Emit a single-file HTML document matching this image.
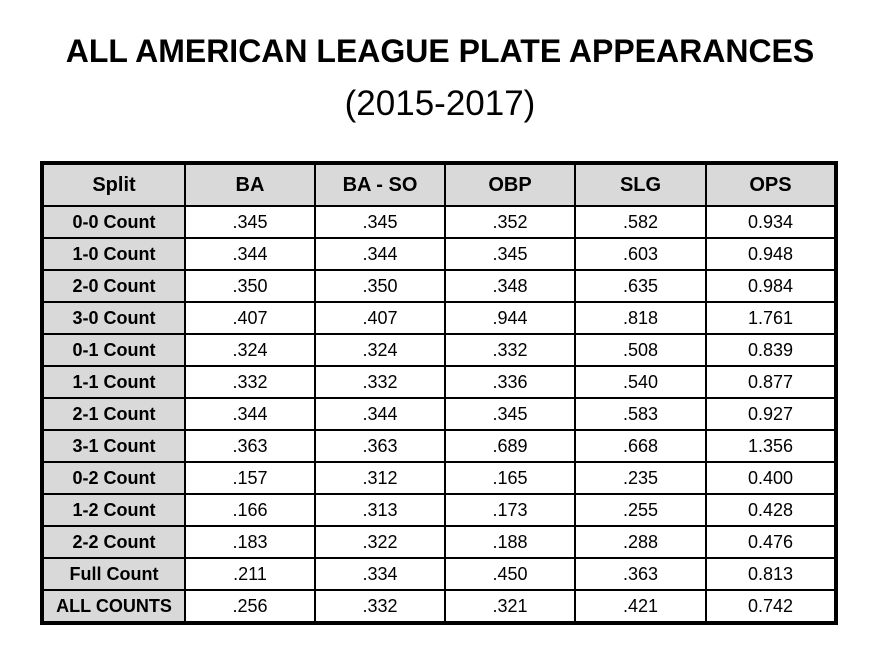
<!DOCTYPE html>
<html><head><style>
body{margin:0;width:880px;height:660px;background:#fff;font-family:"Liberation Sans",sans-serif;position:relative;overflow:hidden}
.t{position:absolute;left:0;width:880px;text-align:center;color:#000}
table{position:absolute;left:40px;top:161px;border-collapse:collapse;border:4px solid #000}
td{border:2px solid #000;text-align:center;font-size:18px;height:30px;padding:0;color:#000}
tr.h td{background:#d9d9d9;font-weight:bold;font-size:20px;height:40px}
td.s{background:#d9d9d9;font-weight:bold;width:140px}
</style></head><body>
<div class="t" style="top:33px;font-size:32px;font-weight:bold;">ALL AMERICAN LEAGUE PLATE APPEARANCES</div>
<div class="t" style="top:84px;font-size:35px;">(2015-2017)</div>
<table>
<tr class="h"><td style="width:140px">Split</td><td style="width:128px">BA</td><td style="width:128px">BA - SO</td><td style="width:128px">OBP</td><td style="width:129px">SLG</td><td style="width:127px">OPS</td></tr>
<tr><td class="s">0-0 Count</td><td>.345</td><td>.345</td><td>.352</td><td>.582</td><td>0.934</td></tr>
<tr><td class="s">1-0 Count</td><td>.344</td><td>.344</td><td>.345</td><td>.603</td><td>0.948</td></tr>
<tr><td class="s">2-0 Count</td><td>.350</td><td>.350</td><td>.348</td><td>.635</td><td>0.984</td></tr>
<tr><td class="s">3-0 Count</td><td>.407</td><td>.407</td><td>.944</td><td>.818</td><td>1.761</td></tr>
<tr><td class="s">0-1 Count</td><td>.324</td><td>.324</td><td>.332</td><td>.508</td><td>0.839</td></tr>
<tr><td class="s">1-1 Count</td><td>.332</td><td>.332</td><td>.336</td><td>.540</td><td>0.877</td></tr>
<tr><td class="s">2-1 Count</td><td>.344</td><td>.344</td><td>.345</td><td>.583</td><td>0.927</td></tr>
<tr><td class="s">3-1 Count</td><td>.363</td><td>.363</td><td>.689</td><td>.668</td><td>1.356</td></tr>
<tr><td class="s">0-2 Count</td><td>.157</td><td>.312</td><td>.165</td><td>.235</td><td>0.400</td></tr>
<tr><td class="s">1-2 Count</td><td>.166</td><td>.313</td><td>.173</td><td>.255</td><td>0.428</td></tr>
<tr><td class="s">2-2 Count</td><td>.183</td><td>.322</td><td>.188</td><td>.288</td><td>0.476</td></tr>
<tr><td class="s">Full Count</td><td>.211</td><td>.334</td><td>.450</td><td>.363</td><td>0.813</td></tr>
<tr><td class="s">ALL COUNTS</td><td>.256</td><td>.332</td><td>.321</td><td>.421</td><td>0.742</td></tr>
</table>
</body></html>
